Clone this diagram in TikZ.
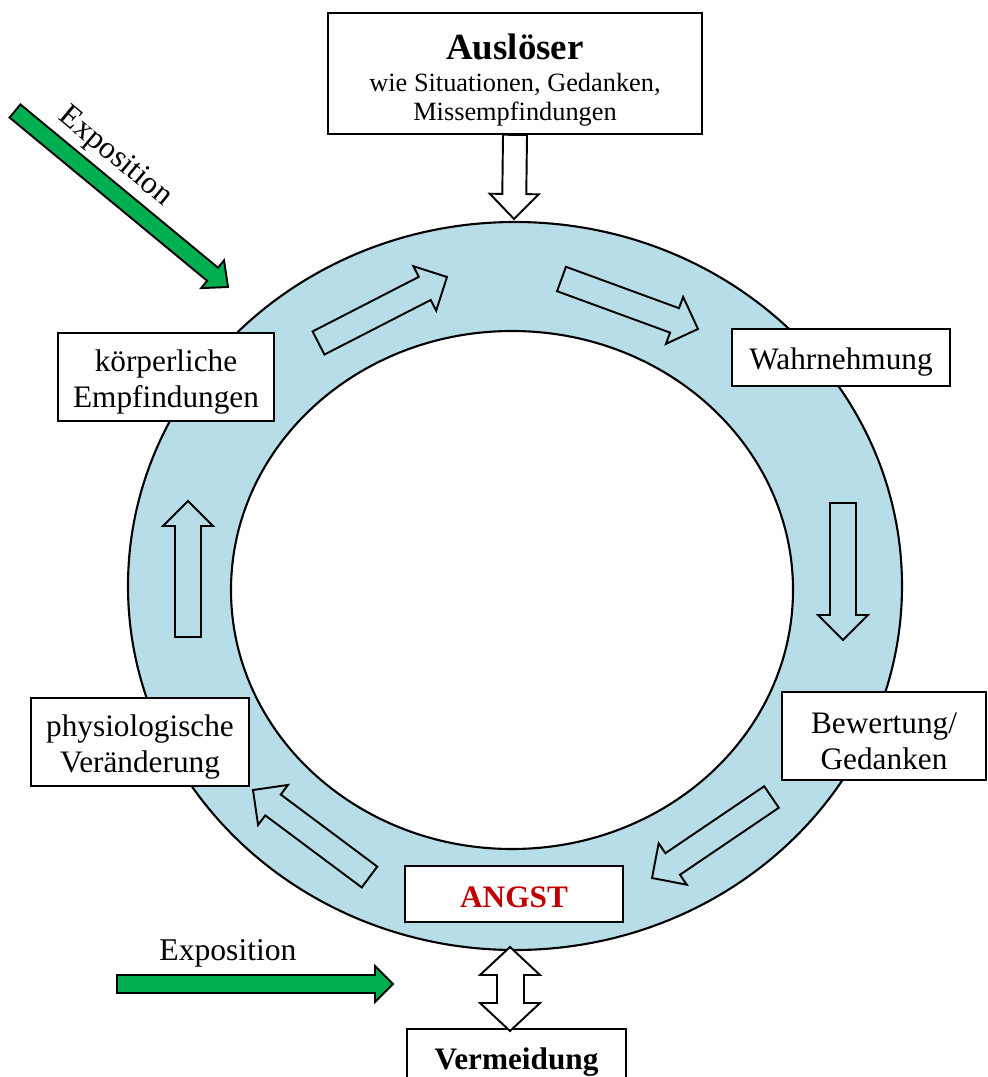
\documentclass[tikz,border=0pt]{standalone}
\usepackage{fontspec}
\setmainfont{Liberation Serif}
\usetikzlibrary{calc}

\definecolor{ringBlue}{HTML}{B7DEE8}
\definecolor{expoGreen}{HTML}{00B050}
\definecolor{angstRed}{HTML}{C00000}

% block arrow: style, tail, tip, half shaft, half head, head length
\newcommand{\blockarrow}[6]{%
  \coordinate (ba-h) at ($(#3)!#6!(#2)$);
  \filldraw[#1] ($(#2)!#4!90:(#3)$) -- ($(ba-h)!#4!90:(#3)$) -- ($(ba-h)!#5!90:(#3)$)
    -- (#3) -- ($(ba-h)!#5!-90:(#3)$) -- ($(ba-h)!#4!-90:(#3)$) -- ($(#2)!#4!-90:(#3)$) -- cycle;
}
% invisible strut that lowers the text in a box
\newcommand{\lift}[1][18pt]{\rule{0pt}{#1}}

\tikzset{
  box/.style={draw, fill=white, line width=1pt, align=center, inner sep=0pt,
    font=\fontsize{17.8}{20.5}\selectfont},
  ringarrow/.style={fill=ringBlue, draw=black, line width=1.1pt, line join=miter},
  expoarrow/.style={fill=expoGreen, draw=black, line width=1.1pt, line join=miter},
  whitearrow/.style={fill=white, draw=black, line width=1.1pt, line join=miter},
  expolabel/.style={font=\fontsize{18}{20}\selectfont, inner sep=0pt},
}

\begin{document}
\begin{tikzpicture}[x=0.02cm, y=-0.02cm]
    \clip (0,0) rectangle (987,1077);

    % Ring
    \filldraw[fill=ringBlue, draw=black, line width=1.2pt] (515,586) ellipse [x radius=387, y radius=364];
    \filldraw[fill=white, draw=black, line width=1.2pt] (512,590) ellipse [x radius=281, y radius=259];

    % Arrows in the ring
    \coordinate (r1a) at (318.5,343); \coordinate (r1b) at (447,277);
    \coordinate (r2a) at (561.5,279); \coordinate (r2b) at (698,329);
    \coordinate (r3a) at (843,503);   \coordinate (r3b) at (843,640);
    \coordinate (r4a) at (771.5,797); \coordinate (r4b) at (652,878);
    \coordinate (r5a) at (369.5,877); \coordinate (r5b) at (253,790);
    \coordinate (r6a) at (188,637);   \coordinate (r6b) at (188,501);
    \foreach \i in {1,...,6}{
        \blockarrow{ringarrow}{r\i a}{r\i b}{0.26cm}{0.5cm}{0.5cm}
    }

    % Boxes
    \node[box, minimum width=7.48cm, minimum height=2.42cm] (ausl) at (515,73.5)
        {\lift[22pt]{\fontsize{21}{21}\selectfont\bfseries Auslöser}\\[-2pt]
         {\fontsize{15}{16}\selectfont wie Situationen, Gedanken,}\\[-4pt]
         {\fontsize{15}{16}\selectfont Missempfindungen}};
    \node[box, minimum width=4.32cm, minimum height=1.76cm] (koerper) at (166,377)
        {\lift körperliche\\Empfindungen};
    \node[box, minimum width=4.36cm, minimum height=1.14cm] (wahr) at (841,357.5)
        {\lift Wahrnehmung};
    \node[box, minimum width=4.08cm, minimum height=1.76cm] (bew) at (884,736)
        {\lift Bewertung/\\Gedanken};
    \node[box, minimum width=4.36cm, minimum height=1.76cm] (phys) at (140,742)
        {\lift physiologische\\Veränderung};
    \node[box, minimum width=4.36cm, minimum height=1.12cm, text=angstRed,
        font=\fontsize{17.8}{20.5}\selectfont\bfseries] (angst) at (514,894) {\lift[15pt]ANGST};
    \node[box, minimum width=4.38cm, minimum height=1.32cm,
        font=\fontsize{17.8}{20.5}\selectfont\bfseries] (verm) at (516.5,1062) {Vermeidung};

    % Trigger arrow
    \coordinate (ringtop) at (514,219);
    \blockarrow{whitearrow}{ausl.south}{ringtop}{0.24cm}{0.49cm}{0.5cm}

    % Double arrow ANGST <-> Vermeidung
    \coordinate (dtop) at (510,947);
    \coordinate (dbot) at (510,1031);
    \filldraw[whitearrow] (dtop) -- ++(30,28) -- ++(-16,0) -- ++(0,28) -- ++(16,0)
        -- (dbot) -- ++(-30,-28) -- ++(17,0) -- ++(0,-28) -- ++(-17,0) -- cycle;

    % Exposition arrows
    \coordinate (e1a) at (15,111);  \coordinate (e1b) at (228,287);
    \coordinate (e2a) at (117,984); \coordinate (e2b) at (393,984);
    \blockarrow{expoarrow}{e1a}{e1b}{0.17cm}{0.36cm}{0.4cm}
    \blockarrow{expoarrow}{e2a}{e2b}{0.18cm}{0.36cm}{0.36cm}
    \node[expolabel, rotate=-39.7] (expo1) at (115,157) {Exposition};
    \node[expolabel] (expo2) at (228,953) {Exposition};

\end{tikzpicture}
\end{document}
